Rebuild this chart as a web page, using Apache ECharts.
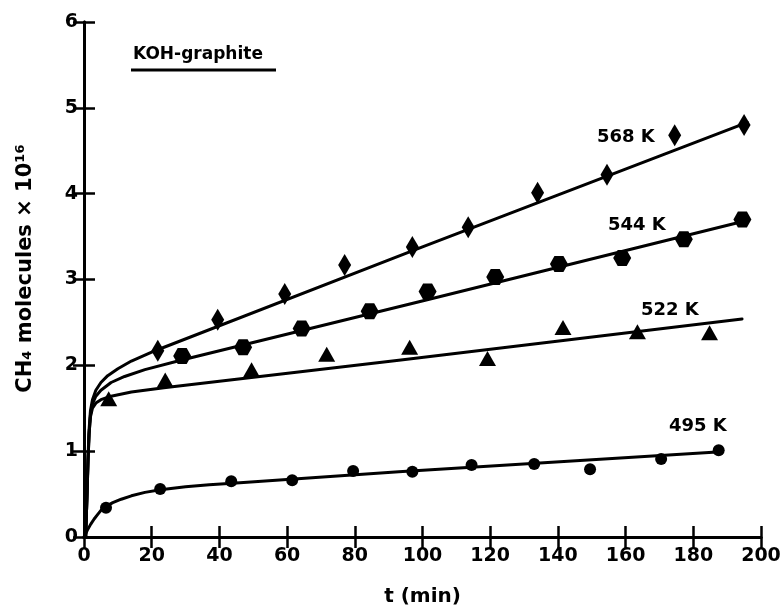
<!DOCTYPE html>
<html>
<head>
<meta charset="utf-8">
<script src="https://cdn.jsdelivr.net/npm/echarts@6/dist/echarts.min.js"></script>
<style>
html,body{margin:0;padding:0;background:#fff;}
#chart{width:784px;height:608px;}
</style>
</head>
<body>
<div id="chart"></div>
<script>
// ---- data ----
var xTicks = [0, 20, 40, 60, 80, 100, 120, 140, 160, 180, 200];
var yTicks = [0, 1, 2, 3, 4, 5, 6];
var seriesNames = ['568 K', '544 K', '522 K', '495 K'];

// measured points [t (min), CH4 molecules x 10^16]
var pts568 = [[21.8,2.17],[39.5,2.53],[59.3,2.83],[77,3.17],[97,3.38],[113.5,3.61],[134,4.01],[154.5,4.22],[174.5,4.68],[195,4.80]];
var pts544 = [[29,2.11],[47,2.21],[64.3,2.43],[84.4,2.63],[101.5,2.86],[121.5,3.03],[140.3,3.18],[159,3.25],[177.2,3.47],[194.5,3.70]];
var pts522 = [[7.3,1.61],[24,1.83],[49.5,1.95],[71.7,2.13],[96.2,2.21],[119.2,2.08],[141.5,2.44],[163.5,2.39],[184.8,2.38]];
var pts495 = [[6.5,0.34],[22.5,0.56],[43.5,0.65],[61.5,0.66],[79.5,0.77],[97,0.76],[114.5,0.84],[133,0.85],[149.5,0.79],[170.5,0.91],[187.5,1.01]];

// fitted curves as drawn in the reference (steep start, then straight)
var fit568 = [[0.5,0],[0.9,0.5],[1.2,0.95],[1.5,1.25],[1.9,1.47],[2.5,1.6],[3.5,1.71],[5,1.8],[7,1.88],[10,1.96],[14,2.05],[21,2.17],[100,3.38],[196,4.83]];
var fit544 = [[0.5,0],[0.9,0.5],[1.2,0.9],[1.5,1.2],[1.9,1.42],[2.5,1.55],[3.5,1.64],[5,1.71],[8,1.8],[12,1.87],[18,1.95],[28.6,2.06],[102,2.77],[194,3.67]];
var fit522 = [[0.5,0],[0.9,0.5],[1.2,0.9],[1.5,1.2],[1.9,1.4],[2.5,1.5],[3.5,1.56],[5,1.6],[8,1.64],[14,1.69],[23.6,1.74],[93,2.06],[194.4,2.54]];
var fit495 = [[0,0],[0.5,0.04],[1,0.08],[2,0.15],[3,0.21],[4,0.26],[5,0.31],[6.6,0.36],[8.5,0.40],[11,0.44],[14,0.48],[18,0.52],[22.6,0.55],[30,0.585],[37,0.61],[45,0.63],[93,0.76],[187,0.99]];

var FONT = '"DejaVu Sans", "Liberation Sans", sans-serif';
var hexPath = 'path://M-1,0 L-0.5,-0.866 L0.5,-0.866 L1,0 L0.5,0.866 L-0.5,0.866 Z';

function fitLine(name, data) {
  return {
    name: name, type: 'line', data: data, xAxisIndex: 0, yAxisIndex: 0,
    smooth: false, showSymbol: false, symbol: 'none',
    lineStyle: {color: '#000', width: 3, join: 'round', cap: 'round'}, z: 3, silent: true
  };
}
function markers(name, data, symbol, size) {
  return {
    name: name, type: 'scatter', data: data, xAxisIndex: 0, yAxisIndex: 0,
    symbol: symbol, symbolSize: size,
    itemStyle: {color: '#000', opacity: 1}, z: 4
  };
}

var axisLineStyle = {show: true, lineStyle: {color: '#000', width: 3}};
var tickStyle = {show: true, inside: true, length: 11, lineStyle: {color: '#000', width: 2.5}};
var labelStyle = {color: '#000', fontSize: 19, fontWeight: 'bold', fontFamily: FONT};

var chart = echarts.init(document.getElementById('chart'), null, {renderer: 'canvas'});
chart.setOption({
  backgroundColor: '#fff',
  animation: false,
  grid: {left: 84, right: 23, top: 22, bottom: 71, containLabel: false, outerBoundsMode: 'none'},
  xAxis: [{
    type: 'value', min: xTicks[0], max: xTicks[xTicks.length - 1], interval: 20,
    position: 'bottom',
    name: 't (min)', nameLocation: 'middle', nameGap: 50,
    nameTextStyle: {color: '#000', fontSize: 20, fontWeight: 'bold', fontFamily: FONT},
    axisLine: axisLineStyle, axisTick: tickStyle,
    axisLabel: Object.assign({margin: 10}, labelStyle),
    splitLine: {show: false}
  }, {
    type: 'value', min: xTicks[0], max: xTicks[xTicks.length - 1], interval: 20,
    position: 'top',
    axisLine: axisLineStyle, axisTick: tickStyle,
    axisLabel: {show: false}, splitLine: {show: false}
  }],
  yAxis: [{
    type: 'value', min: yTicks[0], max: yTicks[yTicks.length - 1], interval: 1,
    position: 'left',
    name: 'CH\u2084 molecules \u00d7 10\u00b9\u2076', nameLocation: 'middle', nameGap: 48,
    nameTextStyle: {color: '#000', fontSize: 21, fontWeight: 'bold', fontFamily: FONT, padding: [0, 0, 0, 22]},
    axisLine: axisLineStyle, axisTick: tickStyle,
    axisLabel: Object.assign({margin: 6}, labelStyle),
    splitLine: {show: false}
  }, {
    type: 'value', min: yTicks[0], max: yTicks[yTicks.length - 1], interval: 1,
    position: 'right',
    axisLine: axisLineStyle, axisTick: tickStyle,
    axisLabel: {show: false}, splitLine: {show: false}
  }],
  series: [
    fitLine(seriesNames[0], fit568),
    fitLine(seriesNames[1], fit544),
    fitLine(seriesNames[2], fit522),
    fitLine(seriesNames[3], fit495),
    markers(seriesNames[0], pts568, 'diamond', [13, 22]),
    markers(seriesNames[1], pts544, hexPath, [18, 16]),
    markers(seriesNames[2], pts522, 'triangle', [17, 15]),
    markers(seriesNames[3], pts495, 'circle', 12)
  ],
  graphic: [
    {type: 'text', left: 133, top: 46, style: {text: 'KOH-graphite', fill: '#000', font: 'bold 17px ' + FONT}},
    {type: 'line', shape: {x1: 131, y1: 70, x2: 276, y2: 70}, style: {stroke: '#000', lineWidth: 3}},
    {type: 'text', left: 597, top: 128, style: {text: seriesNames[0], fill: '#000', font: 'bold 18px ' + FONT}},
    {type: 'text', left: 608, top: 216, style: {text: seriesNames[1], fill: '#000', font: 'bold 18px ' + FONT}},
    {type: 'text', left: 641, top: 301, style: {text: seriesNames[2], fill: '#000', font: 'bold 18px ' + FONT}},
    {type: 'text', left: 669, top: 417, style: {text: seriesNames[3], fill: '#000', font: 'bold 18px ' + FONT}}
  ]
});
</script>
</body>
</html>
